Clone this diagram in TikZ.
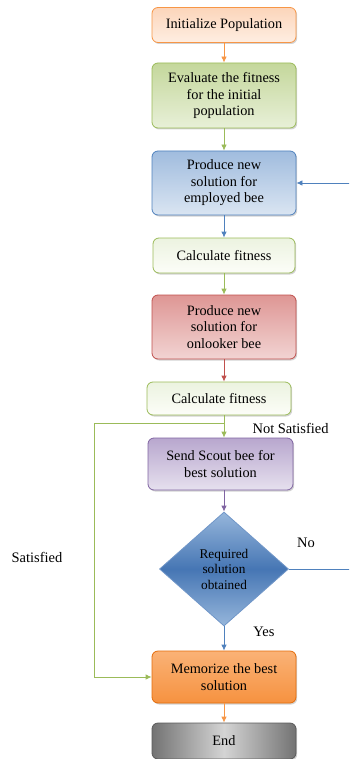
\documentclass[tikz,border=0pt]{standalone}
\usepackage{fontspec}
\setmainfont{Liberation Serif}
\usetikzlibrary{shapes.geometric,arrows.meta,shadows}
\definecolor{initLine}{RGB}{247,150,70}
\definecolor{initTop}{RGB}{252,213,186}
\definecolor{initBot}{RGB}{254,238,226}
\definecolor{evalLine}{RGB}{155,187,89}
\definecolor{evalTop}{RGB}{196,215,155}
\definecolor{evalBot}{RGB}{232,240,216}
\definecolor{empLine}{RGB}{79,129,189}
\definecolor{empTop}{RGB}{160,188,222}
\definecolor{empBot}{RGB}{218,229,242}
\definecolor{calcTop}{RGB}{236,243,224}
\definecolor{calcBot}{RGB}{252,253,248}
\definecolor{onlLine}{RGB}{192,80,77}
\definecolor{onlTop}{RGB}{222,150,148}
\definecolor{onlBot}{RGB}{242,212,211}
\definecolor{scoutLine}{RGB}{128,100,162}
\definecolor{scoutTop}{RGB}{184,167,206}
\definecolor{scoutBot}{RGB}{230,224,238}
\definecolor{diaDark}{RGB}{70,118,180}
\definecolor{diaLight}{RGB}{150,182,219}
\definecolor{diaLine}{RGB}{112,150,200}
\definecolor{memLine}{RGB}{228,108,10}
\definecolor{memTop}{RGB}{250,178,118}
\definecolor{memBot}{RGB}{246,146,64}
\definecolor{endLine}{RGB}{90,90,90}
\definecolor{endDark}{RGB}{115,115,115}
\definecolor{endLight}{RGB}{212,212,212}
\begin{document}
\begin{tikzpicture}
[x=1pt,y=-1pt,
 boxdecorate/.style={shape=rectangle,rounded corners=6pt,draw,line width=0.8pt,align=center,inner sep=2pt,%
   font=\fontsize{14.3}{16.5}\selectfont,minimum width=144pt,%
   drop shadow={opacity=0.35,shadow xshift=1.2pt,shadow yshift=-1.5pt}},
 diadecorate/.style={shape=diamond,draw,line width=0.8pt,align=center,inner sep=0pt,%
   font=\fontsize{13.3}{15.5}\selectfont,minimum width=129pt,minimum height=114pt},
 linedecorate/.style={-{Latex[length=6pt,width=5.5pt]},line width=0.8pt},
 plaindecorate/.style={-,line width=0.8pt},
 labeldecorate/.style={font=\fontsize{14.5}{16.5}\selectfont}]
\clip (0,0) rectangle (349,759);
%%% process boxes
% nodes
\node (init) at (224,25) [boxdecorate,minimum height=35pt,draw=initLine,top color=initTop,bottom color=initBot] {Initialize Population};
\node (eval) at (224,95.5) [boxdecorate,minimum height=65pt,draw=evalLine,top color=evalTop,bottom color=evalBot] {Evaluate the fitness\\for the initial\\population};
\node (emp) at (224,183) [boxdecorate,minimum height=64pt,draw=empLine,top color=empTop,bottom color=empBot] {Produce new\\solution for\\employed bee};
\node (calca) at (224,255.5) [boxdecorate,minimum width=142pt,minimum height=35pt,draw=evalLine,top color=calcTop,bottom color=calcBot] {Calculate fitness};
\node (onl) at (224,327) [boxdecorate,minimum height=64pt,draw=onlLine,top color=onlTop,bottom color=onlBot] {Produce new\\solution for\\onlooker bee};
\node (calcb) at (219,398.5) [boxdecorate,minimum height=33pt,draw=evalLine,top color=calcTop,bottom color=calcBot] {Calculate fitness};
\node (scout) at (220.5,464) [boxdecorate,minimum width=145pt,minimum height=52pt,draw=scoutLine,top color=scoutTop,bottom color=scoutBot] {Send Scout bee for\\best solution};
\node (dia) at (224,569) [diadecorate,draw=diaLine,top color=diaLight,bottom color=diaLight,middle color=diaDark] {Required\\solution\\obtained};
\node (mem) at (224,677) [boxdecorate,minimum height=52pt,draw=memLine,top color=memTop,bottom color=memBot] {Memorize the best\\solution};
\node (end) at (224,741) [boxdecorate,minimum height=36pt,draw=endLine,left color=endDark,right color=endDark,middle color=endLight] {End};
% helper points
\coordinate (split) at (224,423);
\coordinate (loopW) at (94,423);
\coordinate (loopE) at (353,183);
%%% connectors
\path
(init) edge[linedecorate,draw=initLine] (eval)
(eval) edge[linedecorate,draw=evalLine] (emp)
(emp) edge[linedecorate,draw=empLine] (calca)
(calca) edge[linedecorate,draw=evalLine] (onl)
(onl) edge[linedecorate,draw=onlLine] (onl |- calcb.north)
(scout.south -| dia) edge[linedecorate,draw=scoutLine] (dia)
(dia) edge[linedecorate,draw=empLine] (mem)
(mem) edge[linedecorate,draw=initLine] (end);
% loop after second fitness
\draw[plaindecorate,draw=evalLine] (calcb.south -| split) -- (split);
\draw[linedecorate,draw=evalLine] (split) -- (scout.north -| split);
\draw[linedecorate,draw=evalLine] (split) -- (loopW) |- (mem.west);
% back to employed bee
\draw[linedecorate,draw=empLine] (dia.east) -- (loopE |- dia.east) -- (loopE) -- (emp.east);
%%% labels
\node (notsat) at (249,428) [labeldecorate,anchor=west] {Not Satisfied};
\node (sat) at (37,557) [labeldecorate] {Satisfied};
\node (no) at (306,543) [labeldecorate] {No};
\node (yes) at (264,632) [labeldecorate] {Yes};
\end{tikzpicture}
\end{document}
